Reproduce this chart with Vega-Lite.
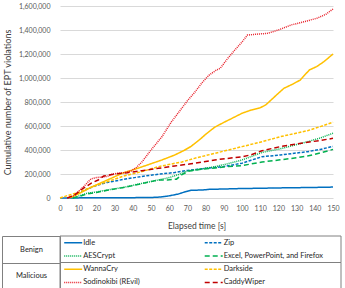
{
  "$schema": "https://vega.github.io/schema/vega-lite/v6.json",
  "padding": {"left": 1, "top": 2, "right": 2, "bottom": 2},
  "background": "white",
  "spacing": 2,
  "config": {
    "view": {"stroke": null},
    "font": "Lato",
    "axis": {"labelFont": "Lato", "titleFont": "Lato", "labelColor": "#595959", "titleColor": "#404040", "titleFontWeight": "normal", "domain": false, "ticks": false, "labelOverlap": false, "labelFlush": false}
  },
  "datasets": {
    "lines": [
      {"series": "Idle", "t": 0, "v": 0}, {"series": "Idle", "t": 10, "v": 1000}, {"series": "Idle", "t": 20, "v": 2000}, {"series": "Idle", "t": 30, "v": 2000}, {"series": "Idle", "t": 40, "v": 3000}, {"series": "Idle", "t": 50, "v": 4000}, {"series": "Idle", "t": 55, "v": 8000}, {"series": "Idle", "t": 60, "v": 18000}, {"series": "Idle", "t": 65, "v": 33000}, {"series": "Idle", "t": 68, "v": 48000}, {"series": "Idle", "t": 72, "v": 65000}, {"series": "Idle", "t": 78, "v": 66000}, {"series": "Idle", "t": 82, "v": 72000}, {"series": "Idle", "t": 90, "v": 75000}, {"series": "Idle", "t": 100, "v": 79000}, {"series": "Idle", "t": 110, "v": 81000}, {"series": "Idle", "t": 120, "v": 84000}, {"series": "Idle", "t": 130, "v": 86000}, {"series": "Idle", "t": 140, "v": 88000}, {"series": "Idle", "t": 150, "v": 91000},
      {"series": "Zip", "t": 5, "v": 0}, {"series": "Zip", "t": 10, "v": 39000}, {"series": "Zip", "t": 15, "v": 75000}, {"series": "Zip", "t": 20, "v": 105000}, {"series": "Zip", "t": 26, "v": 130000}, {"series": "Zip", "t": 35, "v": 155000}, {"series": "Zip", "t": 45, "v": 180000}, {"series": "Zip", "t": 55, "v": 200000}, {"series": "Zip", "t": 63, "v": 212000}, {"series": "Zip", "t": 70, "v": 230000}, {"series": "Zip", "t": 80, "v": 247000}, {"series": "Zip", "t": 90, "v": 262000}, {"series": "Zip", "t": 100, "v": 290000}, {"series": "Zip", "t": 105, "v": 315000}, {"series": "Zip", "t": 111, "v": 344000}, {"series": "Zip", "t": 121, "v": 358000}, {"series": "Zip", "t": 130, "v": 375000}, {"series": "Zip", "t": 136, "v": 386000}, {"series": "Zip", "t": 143, "v": 405000}, {"series": "Zip", "t": 150, "v": 430000},
      {"series": "AESCrypt", "t": 7, "v": 0}, {"series": "AESCrypt", "t": 11, "v": 20000}, {"series": "AESCrypt", "t": 15, "v": 40000}, {"series": "AESCrypt", "t": 20, "v": 50000}, {"series": "AESCrypt", "t": 26, "v": 67000}, {"series": "AESCrypt", "t": 35, "v": 89000}, {"series": "AESCrypt", "t": 45, "v": 122000}, {"series": "AESCrypt", "t": 54, "v": 150000}, {"series": "AESCrypt", "t": 60, "v": 170000}, {"series": "AESCrypt", "t": 65, "v": 195000}, {"series": "AESCrypt", "t": 70, "v": 225000}, {"series": "AESCrypt", "t": 77, "v": 240000}, {"series": "AESCrypt", "t": 85, "v": 261000}, {"series": "AESCrypt", "t": 92, "v": 285000}, {"series": "AESCrypt", "t": 100, "v": 317000}, {"series": "AESCrypt", "t": 105, "v": 345000}, {"series": "AESCrypt", "t": 111, "v": 380000}, {"series": "AESCrypt", "t": 121, "v": 410000}, {"series": "AESCrypt", "t": 130, "v": 445000}, {"series": "AESCrypt", "t": 136, "v": 469000}, {"series": "AESCrypt", "t": 143, "v": 500000}, {"series": "AESCrypt", "t": 150, "v": 540000},
      {"series": "Excel, PowerPoint, and Firefox", "t": 7, "v": 0}, {"series": "Excel, PowerPoint, and Firefox", "t": 11, "v": 15000}, {"series": "Excel, PowerPoint, and Firefox", "t": 15, "v": 35000}, {"series": "Excel, PowerPoint, and Firefox", "t": 20, "v": 45000}, {"series": "Excel, PowerPoint, and Firefox", "t": 26, "v": 65000}, {"series": "Excel, PowerPoint, and Firefox", "t": 35, "v": 88000}, {"series": "Excel, PowerPoint, and Firefox", "t": 45, "v": 120000}, {"series": "Excel, PowerPoint, and Firefox", "t": 54, "v": 150000}, {"series": "Excel, PowerPoint, and Firefox", "t": 59, "v": 150000}, {"series": "Excel, PowerPoint, and Firefox", "t": 64, "v": 157000}, {"series": "Excel, PowerPoint, and Firefox", "t": 67, "v": 195000}, {"series": "Excel, PowerPoint, and Firefox", "t": 71, "v": 225000}, {"series": "Excel, PowerPoint, and Firefox", "t": 78, "v": 240000}, {"series": "Excel, PowerPoint, and Firefox", "t": 85, "v": 250000}, {"series": "Excel, PowerPoint, and Firefox", "t": 92, "v": 262000}, {"series": "Excel, PowerPoint, and Firefox", "t": 100, "v": 270000}, {"series": "Excel, PowerPoint, and Firefox", "t": 111, "v": 300000}, {"series": "Excel, PowerPoint, and Firefox", "t": 121, "v": 318000}, {"series": "Excel, PowerPoint, and Firefox", "t": 130, "v": 335000}, {"series": "Excel, PowerPoint, and Firefox", "t": 136, "v": 350000}, {"series": "Excel, PowerPoint, and Firefox", "t": 143, "v": 375000}, {"series": "Excel, PowerPoint, and Firefox", "t": 150, "v": 405000},
      {"series": "WannaCry", "t": 5, "v": 0}, {"series": "WannaCry", "t": 10, "v": 33000}, {"series": "WannaCry", "t": 17, "v": 89000}, {"series": "WannaCry", "t": 26, "v": 150000}, {"series": "WannaCry", "t": 35, "v": 211000}, {"series": "WannaCry", "t": 41, "v": 239000}, {"series": "WannaCry", "t": 48, "v": 275000}, {"series": "WannaCry", "t": 56, "v": 317000}, {"series": "WannaCry", "t": 63, "v": 358000}, {"series": "WannaCry", "t": 68, "v": 395000}, {"series": "WannaCry", "t": 72, "v": 430000}, {"series": "WannaCry", "t": 77, "v": 490000}, {"series": "WannaCry", "t": 80, "v": 530000}, {"series": "WannaCry", "t": 85, "v": 590000}, {"series": "WannaCry", "t": 90, "v": 630000}, {"series": "WannaCry", "t": 94, "v": 660000}, {"series": "WannaCry", "t": 100, "v": 706000}, {"series": "WannaCry", "t": 105, "v": 733000}, {"series": "WannaCry", "t": 110, "v": 752000}, {"series": "WannaCry", "t": 113, "v": 775000}, {"series": "WannaCry", "t": 118, "v": 845000}, {"series": "WannaCry", "t": 123, "v": 914000}, {"series": "WannaCry", "t": 128, "v": 950000}, {"series": "WannaCry", "t": 132, "v": 983000}, {"series": "WannaCry", "t": 137, "v": 1067000}, {"series": "WannaCry", "t": 141, "v": 1095000}, {"series": "WannaCry", "t": 145, "v": 1136000}, {"series": "WannaCry", "t": 150, "v": 1200000},
      {"series": "Darkside", "t": 0, "v": 0}, {"series": "Darkside", "t": 4, "v": 20000}, {"series": "Darkside", "t": 10, "v": 45000}, {"series": "Darkside", "t": 18, "v": 95000}, {"series": "Darkside", "t": 26, "v": 136000}, {"series": "Darkside", "t": 35, "v": 183000}, {"series": "Darkside", "t": 45, "v": 220000}, {"series": "Darkside", "t": 54, "v": 261000}, {"series": "Darkside", "t": 63, "v": 289000}, {"series": "Darkside", "t": 67, "v": 300000}, {"series": "Darkside", "t": 75, "v": 335000}, {"series": "Darkside", "t": 85, "v": 372000}, {"series": "Darkside", "t": 100, "v": 428000}, {"series": "Darkside", "t": 111, "v": 469000}, {"series": "Darkside", "t": 121, "v": 511000}, {"series": "Darkside", "t": 136, "v": 561000}, {"series": "Darkside", "t": 143, "v": 595000}, {"series": "Darkside", "t": 150, "v": 632000},
      {"series": "Sodinokibi (REvil)", "t": 4, "v": 0}, {"series": "Sodinokibi (REvil)", "t": 8, "v": 20000}, {"series": "Sodinokibi (REvil)", "t": 10, "v": 53000}, {"series": "Sodinokibi (REvil)", "t": 14, "v": 110000}, {"series": "Sodinokibi (REvil)", "t": 17, "v": 160000}, {"series": "Sodinokibi (REvil)", "t": 20, "v": 170000}, {"series": "Sodinokibi (REvil)", "t": 26, "v": 180000}, {"series": "Sodinokibi (REvil)", "t": 29, "v": 200000}, {"series": "Sodinokibi (REvil)", "t": 35, "v": 211000}, {"series": "Sodinokibi (REvil)", "t": 39, "v": 225000}, {"series": "Sodinokibi (REvil)", "t": 42, "v": 255000}, {"series": "Sodinokibi (REvil)", "t": 45, "v": 300000}, {"series": "Sodinokibi (REvil)", "t": 50, "v": 400000}, {"series": "Sodinokibi (REvil)", "t": 56, "v": 510000}, {"series": "Sodinokibi (REvil)", "t": 61, "v": 630000}, {"series": "Sodinokibi (REvil)", "t": 66, "v": 730000}, {"series": "Sodinokibi (REvil)", "t": 70, "v": 810000}, {"series": "Sodinokibi (REvil)", "t": 74, "v": 880000}, {"series": "Sodinokibi (REvil)", "t": 78, "v": 960000}, {"series": "Sodinokibi (REvil)", "t": 82, "v": 1025000}, {"series": "Sodinokibi (REvil)", "t": 86, "v": 1067000}, {"series": "Sodinokibi (REvil)", "t": 88, "v": 1080000}, {"series": "Sodinokibi (REvil)", "t": 92, "v": 1160000}, {"series": "Sodinokibi (REvil)", "t": 96, "v": 1233000}, {"series": "Sodinokibi (REvil)", "t": 100, "v": 1300000}, {"series": "Sodinokibi (REvil)", "t": 103, "v": 1358000}, {"series": "Sodinokibi (REvil)", "t": 108, "v": 1365000}, {"series": "Sodinokibi (REvil)", "t": 114, "v": 1372000}, {"series": "Sodinokibi (REvil)", "t": 120, "v": 1400000}, {"series": "Sodinokibi (REvil)", "t": 127, "v": 1442000}, {"series": "Sodinokibi (REvil)", "t": 134, "v": 1469000}, {"series": "Sodinokibi (REvil)", "t": 141, "v": 1497000}, {"series": "Sodinokibi (REvil)", "t": 146, "v": 1530000}, {"series": "Sodinokibi (REvil)", "t": 150, "v": 1575000},
      {"series": "CaddyWiper", "t": 4, "v": 0}, {"series": "CaddyWiper", "t": 8, "v": 25000}, {"series": "CaddyWiper", "t": 11.5, "v": 67000}, {"series": "CaddyWiper", "t": 17, "v": 122000}, {"series": "CaddyWiper", "t": 21, "v": 150000}, {"series": "CaddyWiper", "t": 24, "v": 183000}, {"series": "CaddyWiper", "t": 30, "v": 200000}, {"series": "CaddyWiper", "t": 37, "v": 211000}, {"series": "CaddyWiper", "t": 45, "v": 228000}, {"series": "CaddyWiper", "t": 54, "v": 247000}, {"series": "CaddyWiper", "t": 63, "v": 267000}, {"series": "CaddyWiper", "t": 71, "v": 283000}, {"series": "CaddyWiper", "t": 85, "v": 317000}, {"series": "CaddyWiper", "t": 100, "v": 344000}, {"series": "CaddyWiper", "t": 105, "v": 360000}, {"series": "CaddyWiper", "t": 111, "v": 394000}, {"series": "CaddyWiper", "t": 121, "v": 428000}, {"series": "CaddyWiper", "t": 136, "v": 464000}, {"series": "CaddyWiper", "t": 143, "v": 480000}, {"series": "CaddyWiper", "t": 150, "v": 497000}
    ],
    "groups": [{"group": "Benign"}, {"group": "Malicious"}],
    "entries": [
      {"group": "Benign", "series": "Idle", "row": 1, "col": 1},
      {"group": "Benign", "series": "Zip", "row": 1, "col": 2},
      {"group": "Benign", "series": "AESCrypt", "row": 2, "col": 1},
      {"group": "Benign", "series": "Excel, PowerPoint, and Firefox", "row": 2, "col": 2},
      {"group": "Malicious", "series": "WannaCry", "row": 3, "col": 1},
      {"group": "Malicious", "series": "Darkside", "row": 3, "col": 2},
      {"group": "Malicious", "series": "Sodinokibi (REvil)", "row": 4, "col": 1},
      {"group": "Malicious", "series": "CaddyWiper", "row": 4, "col": 2}
    ]
  },
  "vconcat": [
    {
      "width": 273,
      "height": 192,
      "data": {"name": "lines"},
      "mark": {"type": "line", "strokeWidth": 1.5},
      "encoding": {
        "x": {"field": "t", "type": "quantitative", "scale": {"domain": [0, 150], "nice": false},
          "axis": {"values": [0, 10, 20, 30, 40, 50, 60, 70, 80, 90, 100, 110, 120, 130, 140, 150], "format": "d", "title": "Elapsed time [s]", "grid": false, "labelFontSize": 7, "labelPadding": 6, "titleFontSize": 8.5, "titlePadding": 10}},
        "y": {"field": "v", "type": "quantitative", "scale": {"domain": [0, 1600000], "nice": false},
          "axis": {"values": [0, 200000, 400000, 600000, 800000, 1000000, 1200000, 1400000, 1600000], "format": ",.0f", "title": "Cumulative number of EPT violations", "labelFontSize": 7, "labelPadding": 10, "titleFontSize": 9, "titlePadding": 6, "gridColor": "#d9d9d9", "gridWidth": 1}},
        "color": {"field": "series", "type": "nominal", "legend": null,
          "scale": {"domain": ["Idle", "Zip", "AESCrypt", "Excel, PowerPoint, and Firefox", "WannaCry", "Darkside", "Sodinokibi (REvil)", "CaddyWiper"],
            "range": ["#0070c0", "#0070c0", "#00b050", "#00b050", "#ffc000", "#ffc000", "#e8202a", "#c00000"]}},
        "strokeDash": {"field": "series", "type": "nominal", "legend": null,
          "scale": {"domain": ["Idle", "Zip", "AESCrypt", "Excel, PowerPoint, and Firefox", "WannaCry", "Darkside", "Sodinokibi (REvil)", "CaddyWiper"],
            "range": [[1, 0], [3, 1.5], [1, 1], [5, 3], [1, 0], [3, 1.5], [1, 1], [5, 3]]}}
      }
    },
    {
      "width": 281,
      "height": 53,
      "layer": [
        {"data": {"name": "groups"}, "mark": {"type": "rect", "fill": "white", "stroke": "#808080", "strokeWidth": 1},
          "encoding": {"y": {"field": "group", "type": "nominal", "scale": {"type": "band", "paddingInner": 0, "paddingOuter": 0},
            "axis": {"orient": "left", "title": null, "grid": false, "domain": true, "domainColor": "#808080", "domainWidth": 1, "ticks": true, "tickBand": "extent", "tickSize": 58, "tickColor": "#808080", "tickWidth": 1, "labelAlign": "center", "labelBaseline": "middle", "labelPadding": -29, "labelFontSize": 7.5, "labelColor": "#262626", "labelFont": "Lato"}}}},
        {"data": {"name": "entries"}, "mark": {"type": "rule", "strokeWidth": 1.5},
          "encoding": {
            "x": {"field": "col", "type": "ordinal", "bandPosition": 0.03, "scale": {"type": "band", "paddingInner": 0, "paddingOuter": 0}, "axis": null},
            "x2": {"field": "col", "bandPosition": 0.158},
            "y": {"field": "row", "type": "ordinal", "scale": {"type": "band", "paddingInner": 0, "paddingOuter": 0},
              "axis": {"orient": "left", "offset": 58, "title": null, "grid": false, "domain": true, "domainColor": "#808080", "domainWidth": 1, "ticks": false, "labels": false}},
            "color": {"field": "series", "type": "nominal", "legend": null,
              "scale": {"domain": ["Idle", "Zip", "AESCrypt", "Excel, PowerPoint, and Firefox", "WannaCry", "Darkside", "Sodinokibi (REvil)", "CaddyWiper"],
                "range": ["#0070c0", "#0070c0", "#00b050", "#00b050", "#ffc000", "#ffc000", "#e8202a", "#c00000"]}},
            "strokeDash": {"field": "series", "type": "nominal", "legend": null,
              "scale": {"domain": ["Idle", "Zip", "AESCrypt", "Excel, PowerPoint, and Firefox", "WannaCry", "Darkside", "Sodinokibi (REvil)", "CaddyWiper"],
                "range": [[1, 0], [3, 1.5], [1, 1], [5, 3], [1, 0], [3, 1.5], [1, 1], [5, 3]]}}
          }},
        {"data": {"name": "entries"}, "mark": {"type": "text", "align": "left", "fontSize": 7.5, "color": "#262626", "font": "Lato"},
          "encoding": {
            "x": {"field": "col", "type": "ordinal", "bandPosition": 0.165, "scale": {"type": "band", "paddingInner": 0, "paddingOuter": 0}, "axis": null},
            "y": {"field": "row", "type": "ordinal", "scale": {"type": "band", "paddingInner": 0, "paddingOuter": 0}, "axis": null},
            "text": {"field": "series"}
          }}
      ],
      "resolve": {"scale": {"y": "independent"}, "axis": {"y": "independent"}}
    }
  ]
}
